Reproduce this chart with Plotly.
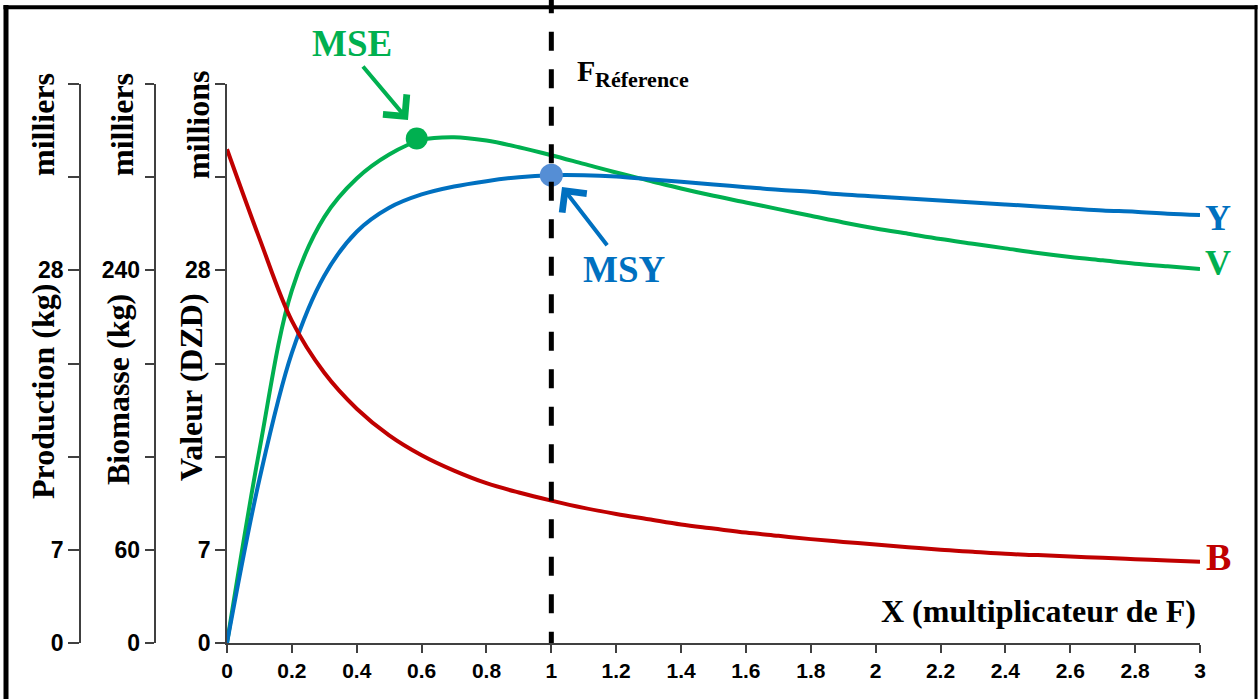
import plotly.graph_objects as go

# ---------------- data ----------------
x_mult = [0, 0.1, 0.2, 0.3, 0.4, 0.5, 0.6, 0.7, 0.8, 0.9, 1.0,
          1.1, 1.2, 1.3, 1.4, 1.5, 1.6, 1.7, 1.8, 1.9, 2.0,
          2.1, 2.2, 2.3, 2.4, 2.5, 2.6, 2.7, 2.8, 2.9, 3.0]
# Production Y (milliers kg)
production_Y = [0, 12.3, 21.8, 27.6, 30.9, 32.7, 33.7, 34.3, 34.7, 35.0, 35.15,
                35.15, 35.05, 34.85, 34.65, 34.45, 34.25, 34.05, 33.9, 33.7, 33.55,
                33.4, 33.25, 33.1, 32.95, 32.8, 32.65, 32.5, 32.4, 32.25, 32.15]
# Valeur V (millions DZD)
valeur_V = [0, 14.5, 26.5, 32.0, 34.9, 36.7, 37.8, 38.0, 37.75, 37.25, 36.65,
            36.0, 35.35, 34.75, 34.15, 33.6, 33.1, 32.6, 32.1, 31.6, 31.15,
            30.75, 30.35, 30.0, 29.65, 29.3, 29.0, 28.75, 28.5, 28.3, 28.1]
# Biomasse B (milliers kg)
biomasse_B = [318.0, 260.6, 207.4, 174.0, 150.9, 133.7, 120.9, 111.0, 102.9, 96.9, 91.7,
              87.0, 83.1, 79.7, 76.3, 73.7, 71.1, 69.0, 66.9, 65.1, 63.4,
              61.7, 60.0, 58.7, 57.4, 56.6, 55.7, 54.9, 54.0, 53.1, 52.3]

mse_x, mse_v = [0.585], [37.9]
msy_x, msy_y = [1.0], [35.15]
f_reference = 1.0

x_ticks = [0, 0.2, 0.4, 0.6, 0.8, 1, 1.2, 1.4, 1.6, 1.8, 2, 2.2, 2.4, 2.6, 2.8, 3]
x_ticktext = ["0", "0.2", "0.4", "0.6", "0.8", "1", "1.2", "1.4", "1.6", "1.8",
              "2", "2.2", "2.4", "2.6", "2.8", "3"]
prod_ticks = [0, 7, 14, 21, 28, 35, 42]
prod_ticktext = ["0", "7", "", "", "28", "", ""]
bio_ticks = [0, 60, 120, 180, 240, 300, 360]
bio_ticktext = ["0", "60", "", "", "240", "", ""]
val_ticks = [0, 7, 14, 21, 28, 35, 42]
val_ticktext = ["0", "7", "", "", "28", "", ""]

# ---------------- layout helpers ----------------
W, H = 1259, 699
ML, MR, MT, MB = 30, 59, 84, 56
PW, PH = W - ML - MR, H - MT - MB


def px(x):
    return (x - ML) / PW


def py(y):
    return (H - MB - y) / PH


GREEN = "#00B050"
BLUE = "#0070C0"
RED = "#C00000"
AXC = "#404040"
SERIF = "Liberation Serif, Times New Roman, serif"
SANS = "Liberation Sans, Arial, sans-serif"

fig = go.Figure()
fig.add_trace(go.Scatter(x=x_mult, y=valeur_V, mode="lines", yaxis="y",
                         line=dict(color=GREEN, width=4, shape="spline", smoothing=1.0),
                         name="V"))
fig.add_trace(go.Scatter(x=x_mult, y=production_Y, mode="lines", yaxis="y2",
                         line=dict(color=BLUE, width=4, shape="spline", smoothing=1.0),
                         name="Y"))
fig.add_trace(go.Scatter(x=x_mult, y=biomasse_B, mode="lines", yaxis="y3",
                         line=dict(color=RED, width=4, shape="spline", smoothing=1.0),
                         name="B"))
fig.add_trace(go.Scatter(x=mse_x, y=mse_v, mode="markers", yaxis="y",
                         marker=dict(color=GREEN, size=22), name="MSE"))
fig.add_trace(go.Scatter(x=msy_x, y=msy_y, mode="markers", yaxis="y2",
                         marker=dict(color="#558ED5", size=23), name="MSY"))

axis_common = dict(showline=True, linecolor=AXC, linewidth=1.5, ticks="outside",
                   tickcolor=AXC, tickwidth=1.5, showgrid=False, zeroline=False,
                   fixedrange=True)
ytickfont = dict(family=SANS, size=23, color="black", weight="bold")

fig.update_layout(
    width=W, height=H,
    margin=dict(l=ML, r=MR, t=MT, b=MB, autoexpand=False),
    paper_bgcolor="white", plot_bgcolor="white",
    showlegend=False,
    xaxis=dict(domain=[px(227), 1], range=[0, 3], tickvals=x_ticks, ticktext=x_ticktext,
               ticklen=8, tickfont=dict(family=SANS, size=21, color="black", weight="bold"),
               **axis_common),
    yaxis=dict(range=[0, 42], tickvals=val_ticks, ticktext=val_ticktext, ticklen=10,
               tickfont=ytickfont, **axis_common),
    yaxis2=dict(range=[0, 42], overlaying="y", anchor="free", position=px(80), side="left",
                tickvals=prod_ticks, ticktext=prod_ticktext, ticklen=11,
                tickfont=ytickfont, **axis_common),
    yaxis3=dict(range=[0, 360], overlaying="y", anchor="free", position=px(154.5), side="left",
                tickvals=bio_ticks, ticktext=bio_ticktext, ticklen=9,
                tickfont=ytickfont, **axis_common),
)

# reference line F = 1
fig.add_shape(type="line", xref="x", yref="paper", x0=f_reference, x1=f_reference,
              y0=py(-5.8), y1=py(643), layer="above",
              line=dict(color="black", width=5, dash="19px,18.5px"))

# frame
fig.add_shape(type="line", xref="paper", yref="paper", x0=px(6), x1=px(6),
              y0=py(5), y1=py(705), line=dict(color="black", width=5))
fig.add_shape(type="line", xref="paper", yref="paper", x0=px(3.5), x1=px(1257.5),
              y0=py(7.2), y1=py(7.2), line=dict(color="black", width=4))
fig.add_shape(type="line", xref="paper", yref="paper", x0=px(1256), x1=px(1256),
              y0=py(5), y1=py(705), line=dict(color="black", width=3))


def text(t, x, y, size, color="black", angle=0, xanchor="center"):
    fig.add_annotation(text=t, xref="paper", yref="paper", x=px(x), y=py(y),
                       showarrow=False, textangle=angle, xanchor=xanchor, yanchor="middle",
                       borderpad=0,
                       font=dict(family=SERIF, size=size, color=color, weight="bold"))


text("milliers", 43, 125, 32, angle=-90)
text("milliers", 122, 125, 32, angle=-90)
text("millions", 198, 125, 32, angle=-90)
text("Production (kg)", 43, 392, 32, angle=-90)
text("Biomasse (kg)", 118, 390, 32, angle=-90)
text("Valeur (DZD)", 191, 387, 32, angle=-90)
text("X (multiplicateur de F)", 1038, 611, 32)
text("F", 586, 70, 30)
text("Réference", 594, 80, 22, xanchor="left")
text("MSE", 352, 43, 37, color=GREEN)
text("MSY", 624, 269, 37, color=BLUE)
text("Y", 1218, 218, 36, color=BLUE)
text("V", 1218, 263, 36, color=GREEN)
text("B", 1218, 557, 38, color=RED)

# arrows
fig.add_annotation(text="", xref="paper", yref="paper", x=px(408), y=py(120),
                   ax=361.7 - 408, ay=65 - 120, showarrow=True, arrowhead=4,
                   arrowsize=1.5, arrowwidth=4, arrowcolor=GREEN)
fig.add_annotation(text="", xref="paper", yref="paper", x=px(562), y=py(187),
                   ax=608.3 - 562, ay=246.7 - 187, showarrow=True, arrowhead=4,
                   arrowsize=1.5, arrowwidth=4, arrowcolor=BLUE)

fig.write_html("out.html")
